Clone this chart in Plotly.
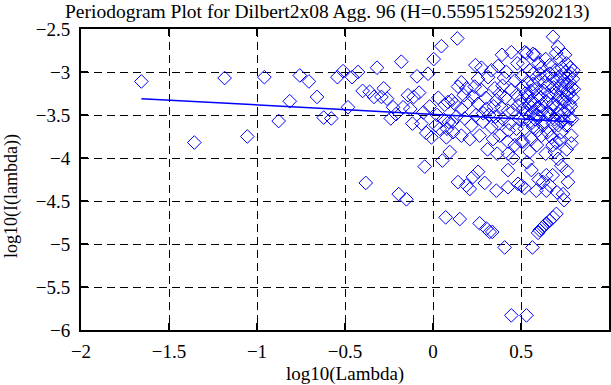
import plotly.graph_objects as go

# ---- data ----
log_lambda_low = [-1.657, -1.356, -1.184, -1.055, -0.958, -0.877, -0.814, -0.757, -0.705, -0.659,
                  -0.621, -0.578, -0.543, -0.511, -0.483, -0.460, -0.426, -0.400, -0.382, -0.360,
                  -0.335, -0.318, -0.293, -0.280, -0.261, -0.240, -0.227, -0.210, -0.195, -0.180,
                  -0.170, -0.151, -0.142, -0.129, -0.117, -0.110, -0.091, -0.079, -0.066, -0.055,
                  -0.047, -0.038, -0.028, -0.019, -0.009, 0.004, 0.015, 0.023, 0.030, 0.038,
                  0.048, 0.053, 0.060, 0.067, 0.072, 0.076, 0.080, 0.085, 0.090, 0.095]
log_I_low = [-3.11, -3.82, -3.07, -3.75, -3.06, -3.57, -3.34, -3.04, -3.11, -3.29,
             -3.53, -3.54, -3.06, -2.99, -3.41, -3.06, -3.00, -3.22, -4.29, -3.23,
             -3.29, -2.95, -3.29, -3.19, -3.31, -3.54, -3.41, -3.49, -4.42, -2.88,
             -3.41, -4.48, -3.27, -3.43, -3.60, -3.29, -3.05, -3.24, -3.60, -3.47,
             -4.10, -3.71, -3.02, -3.40, -3.76, -2.85, -3.62, -3.50, -3.30, -3.66,
             -2.70, -4.03, -3.55, -3.38, -4.69, -3.76, -3.66, -3.35, -3.58, -3.93]

log_lambda_mid = [0.138, 0.392, 0.445, 0.479, 0.241, 0.275, 0.332, 0.370, 0.417, 0.404,
                  0.313, 0.256, 0.161, 0.142, 0.190, 0.237, 0.275, 0.351, 0.379, 0.445,
                  0.474, 0.498, 0.483, 0.227, 0.199, 0.123, 0.105, 0.161, 0.256, 0.303,
                  0.360, 0.389, 0.426, 0.133, 0.180, 0.110, 0.218, 0.284, 0.332, 0.370,
                  0.436, 0.474, 0.114, 0.161, 0.209, 0.265, 0.341, 0.379, 0.426, 0.464,
                  0.502, 0.426, 0.256, 0.227, 0.142, 0.190, 0.209, 0.294, 0.360, 0.426,
                  0.426, 0.483, 0.502, 0.152, 0.265, 0.303, 0.322, 0.337, 0.407, 0.445,
                  0.300, 0.318, 0.345, 0.355, 0.398, 0.410, 0.455, 0.465, 0.490, 0.395,
                  0.430, 0.285, 0.245, 0.175, 0.310, 0.365, 0.455]
log_I_mid = [-2.61, -2.80, -2.77, -2.90, -2.92, -2.95, -2.98, -2.93, -3.00, -3.07,
             -3.06, -3.08, -3.12, -3.17, -3.19, -3.17, -3.21, -3.19, -3.25, -3.21,
             -3.27, -3.33, -3.39, -3.29, -3.35, -3.37, -3.33, -3.43, -3.37, -3.43,
             -3.33, -3.41, -3.45, -3.52, -3.54, -3.58, -3.62, -3.58, -3.64, -3.60,
             -3.60, -3.66, -3.70, -3.74, -3.78, -3.74, -3.78, -3.74, -3.81, -3.85,
             -3.81, -3.95, -4.16, -4.22, -4.28, -4.32, -4.36, -4.29, -4.38, -4.14,
             -4.34, -4.30, -4.32, -4.71, -4.76, -4.82, -4.86, -4.86, -5.04, -5.83,
             -3.30, -3.50, -3.40, -3.52, -3.55, -3.30, -3.45, -3.10, -3.55, -3.16,
             -3.68, -3.48, -3.50, -3.27, -3.90, -3.95, -4.00]

log_lambda_high = [0.682, 0.710, 0.568, 0.521, 0.720, 0.663, 0.758, 0.512, 0.549, 0.606,
                   0.786, 0.795, 0.777, 0.682, 0.635, 0.568, 0.729, 0.512, 0.767, 0.701,
                   0.654, 0.597, 0.540, 0.739, 0.777, 0.682, 0.616, 0.559, 0.512, 0.748,
                   0.710, 0.654, 0.587, 0.777, 0.729, 0.682, 0.625, 0.568, 0.521, 0.786,
                   0.729, 0.673, 0.616, 0.559, 0.512, 0.786, 0.720, 0.549, 0.692, 0.710,
                   0.729, 0.559, 0.644, 0.767, 0.625, 0.663, 0.587, 0.644, 0.739, 0.745,
                   0.606, 0.625, 0.644, 0.663, 0.682, 0.701, 0.597, 0.616, 0.635, 0.565,
                   0.531, 0.578, 0.531,
                   0.505, 0.515, 0.525, 0.530, 0.535, 0.545, 0.550, 0.555, 0.560, 0.565,
                   0.570, 0.575, 0.580, 0.585, 0.590, 0.595, 0.600, 0.605, 0.610, 0.615,
                   0.620, 0.630, 0.635, 0.640, 0.645, 0.650, 0.655, 0.660, 0.665, 0.670,
                   0.675, 0.680, 0.685, 0.690, 0.695, 0.700, 0.705, 0.712, 0.715, 0.720,
                   0.725, 0.732, 0.735, 0.740, 0.743, 0.748, 0.752, 0.755, 0.760, 0.763,
                   0.768, 0.772, 0.775, 0.780, 0.783, 0.788, 0.790, 0.793, 0.797, 0.800,
                   0.760, 0.700, 0.590, 0.640, 0.535, 0.600, 0.680, 0.705, 0.760, 0.520,
                   0.750, 0.700, 0.640, 0.600]
log_I_high = [-2.59, -2.71, -2.79, -2.77, -2.85, -2.92, -2.90, -2.90, -2.98, -3.02,
              -3.02, -3.08, -3.12, -3.08, -3.12, -3.14, -3.16, -3.17, -3.21, -3.25,
              -3.27, -3.27, -3.29, -3.31, -3.37, -3.37, -3.39, -3.41, -3.43, -3.47,
              -3.48, -3.48, -3.50, -3.54, -3.58, -3.60, -3.62, -3.64, -3.66, -3.74,
              -3.70, -3.76, -3.74, -3.78, -3.81, -3.83, -3.79, -3.93, -3.93, -4.01,
              -4.09, -4.14, -4.20, -4.28, -4.28, -4.32, -4.38, -4.38, -4.42, -4.49,
              -4.84, -4.80, -4.76, -4.73, -4.69, -4.65, -4.87, -4.82, -4.78, -5.04,
              -5.83, -2.80, -2.78,
              -3.05, -3.55, -3.25, -3.48, -3.12, -3.38, -3.58, -3.22, -3.33, -3.47,
              -3.02, -3.36, -3.55, -3.20, -3.42, -3.68, -3.10, -3.52, -3.30, -2.95,
              -3.45, -3.22, -3.58, -3.05, -3.35, -3.70, -3.15, -3.50, -3.02, -3.42,
              -3.25, -3.85, -3.18, -3.55, -2.98, -3.40, -3.10, -3.62, -3.30, -3.05,
              -3.45, -2.95, -3.22, -3.55, -3.10, -3.35, -3.00, -3.62, -3.28, -3.15,
              -3.45, -3.05, -3.25, -2.95, -3.40, -3.18, -3.55, -3.30, -2.98, -3.20,
              -3.90, -3.82, -3.85, -3.95, -4.05, -4.25, -4.20, -4.40, -4.15, -4.35,
              -2.80, -2.78, -2.85, -2.90]

fit_x = [-1.657, 0.800]
fit_y = [-3.31, -3.58]

x_ticks = [-2, -1.5, -1, -0.5, 0, 0.5, 1]
y_ticks = [-2.5, -3, -3.5, -4, -4.5, -5, -5.5, -6]

title_text = "Periodogram Plot for Dilbert2x08 Agg. 96 (H=0.55951525920213)"
x_title = "log10(Lambda)"
y_title = "log10(I(lambda))"

FONT = "Liberation Serif"
BLUE = "#0000ff"

xs = log_lambda_low + log_lambda_mid + log_lambda_high
ys = log_I_low + log_I_mid + log_I_high

fig = go.Figure()
fig.add_trace(go.Scatter(
    x=xs, y=ys, mode="markers",
    marker=dict(symbol="diamond-open", size=10.5, color=BLUE, line=dict(width=1, color=BLUE)),
    showlegend=False, hoverinfo="skip"))
fig.add_trace(go.Scatter(
    x=fit_x, y=fit_y, mode="lines",
    line=dict(color=BLUE, width=1.5), showlegend=False, hoverinfo="skip"))

axis_common = dict(
    showline=True, linecolor="black", linewidth=2, mirror="allticks",
    ticks="inside", ticklen=7, tickwidth=2, tickcolor="black",
    showgrid=True, gridcolor="black", gridwidth=1, griddash="8px,5px",
    zeroline=False, automargin=False,
    tickfont=dict(family=FONT, size=19, color="black"),
)

fig.update_xaxes(range=[-2, 1], tickvals=x_ticks,
                 ticktext=[("\u2212" + str(abs(v))) if v < 0 else str(v) for v in x_ticks],
                 ticklabelstandoff=3, **axis_common)
fig.update_yaxes(range=[-6, -2.5], tickvals=y_ticks,
                 ticktext=["\u2212" + str(abs(v)) for v in y_ticks],
                 ticklabelstandoff=5, **axis_common)

fig.update_layout(
    width=611, height=385,
    margin=dict(l=81, r=2, t=29, b=55),
    paper_bgcolor="white", plot_bgcolor="white",
    font=dict(family=FONT, color="black"),
    title=dict(text=title_text, x=0.1064, xref="container", xanchor="left",
               y=0.972, yref="container", yanchor="middle", automargin=False,
               font=dict(family=FONT, size=19.5, color="black")),
    annotations=[
        dict(text=x_title, xref="paper", yref="paper", x=0.5, y=-0.146,
             xanchor="center", yanchor="middle", showarrow=False,
             font=dict(family=FONT, size=19, color="black")),
        dict(text=y_title, xref="paper", yref="paper", x=-0.1326, y=0.445,
             xanchor="center", yanchor="middle", textangle=-90, showarrow=False,
             font=dict(family=FONT, size=18, color="black")),
    ],
)

fig.write_html(
    "out.html",
    config={"displayModeBar": False},
    post_script="document.body.style.margin='0';document.body.style.overflow='hidden';",
)
